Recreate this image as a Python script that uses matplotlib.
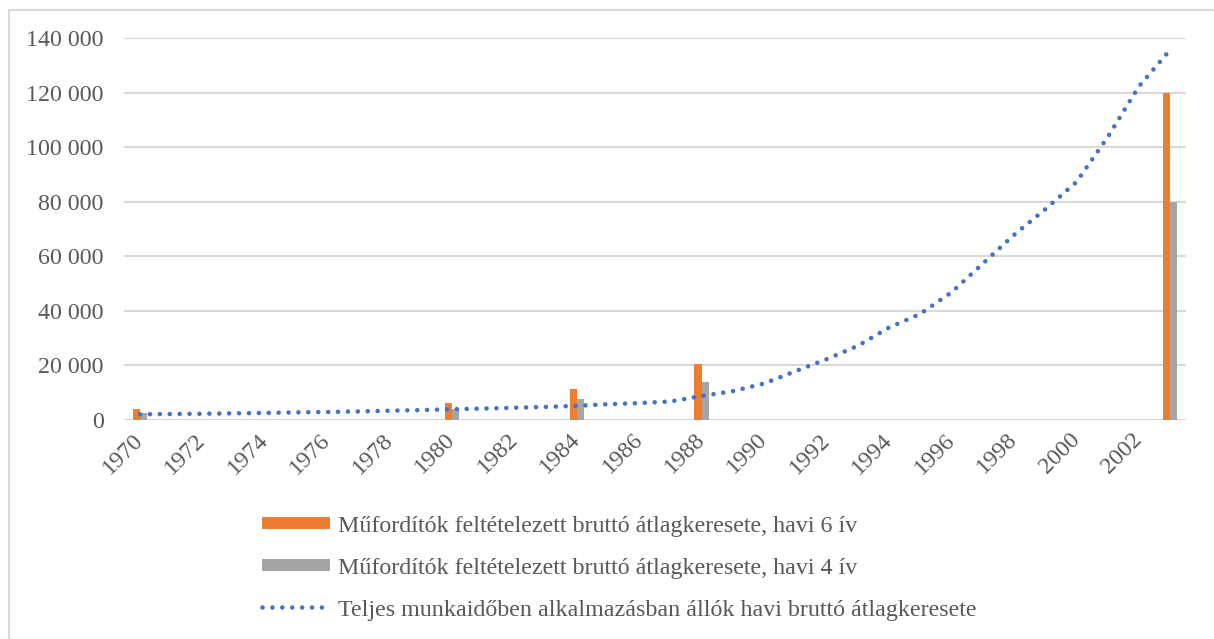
import matplotlib
matplotlib.use("Agg")
import matplotlib.pyplot as plt
import numpy as np
from matplotlib.lines import Line2D

plt.rcParams['font.family'] = ['Liberation Serif', 'DejaVu Serif']

years = list(range(1970, 2004))
# teljes munkaidős havi bruttó átlagkereset (Ft)
avg_wage = [2100, 2200, 2300, 2450, 2600, 2800, 2950, 3150, 3400, 3650,
            3950, 4200, 4500, 4800, 5200, 5800, 6200, 6800, 8800, 10600,
            13400, 17900, 22300, 27200, 33900, 38900, 46800, 57300, 67800, 77200,
            87200, 103600, 122200, 135600]
# műfordítók, csak néhány évre
bar_years = [1970, 1980, 1984, 1988, 2003]
six_sheets = [4000, 6300, 11400, 20700, 120000]
four_sheets = [2700, 4200, 7600, 13800, 80000]

label_6 = "Műfordítók feltételezett bruttó átlagkeresete, havi 6 ív"
label_4 = "Műfordítók feltételezett bruttó átlagkeresete, havi 4 ív"
label_avg = "Teljes munkaidőben alkalmazásban állók havi bruttó átlagkeresete"

ORANGE = '#ED7D31'
GRAY = '#A5A5A5'
BLUE = '#4472C4'
TEXT = '#595959'
FS = 17.3

fig = plt.figure(figsize=(12.14, 6.39), dpi=100)
ax = fig.add_axes([0.1025, 0.3427, 0.8741, 0.5978])

x = np.arange(len(years))
bx = np.array([years.index(y) for y in bar_years])
w = 0.235
ax.bar(bx - w / 2, six_sheets, width=w, color=ORANGE, zorder=2)
ax.bar(bx + w / 2, four_sheets, width=w, color=GRAY, zorder=2)
dots = (0, (0.01, 2.15))
ax.plot(x, avg_wage, color=BLUE, lw=3.3, linestyle=dots,
        dash_capstyle='round', zorder=3)

ax.set_xlim(-0.5, len(years) - 0.5)
ax.set_ylim(0, 140000)
ax.set_yticks(np.arange(0, 140001, 20000))
ax.set_yticklabels([f"{v:,}".replace(",", " ") for v in range(0, 140001, 20000)])
ax.set_xticks(x[::2])
ax.set_xticklabels([str(y) for y in years[::2]], rotation=45, ha='right',
                   va='center', rotation_mode='anchor')

ax.grid(axis='y', color='#D9D9D9', lw=1.5, zorder=0)
ax.set_axisbelow(True)
for s in ax.spines.values():
    s.set_visible(False)
ax.tick_params(axis='both', length=0, labelsize=FS, colors=TEXT)
ax.tick_params(axis='y', pad=15)
ax.tick_params(axis='x', pad=12)

handles = [
    Line2D([], [], color=ORANGE, lw=8.6, solid_capstyle='butt'),
    Line2D([], [], color=GRAY, lw=8.6, solid_capstyle='butt'),
    Line2D([], [], color=BLUE, lw=3.3, linestyle=dots, dash_capstyle='round'),
]
fig.legend(handles, [label_6, label_4, label_avg], loc='upper left',
           bbox_to_anchor=(0.2158, 1 - 515 / 639), frameon=False, fontsize=FS,
           labelcolor=TEXT, handlelength=2.83, handletextpad=0.33,
           labelspacing=0.84, borderpad=0, borderaxespad=0)

# keret
fig.add_artist(Line2D([9 / 1214, 9 / 1214], [0, 1 - 10 / 639], color='#D9D9D9', lw=1.5,
                      transform=fig.transFigure))
fig.add_artist(Line2D([9 / 1214, 1], [1 - 10 / 639, 1 - 10 / 639], color='#D9D9D9', lw=1.5,
                      transform=fig.transFigure))

fig.savefig('out.png', dpi=100)
